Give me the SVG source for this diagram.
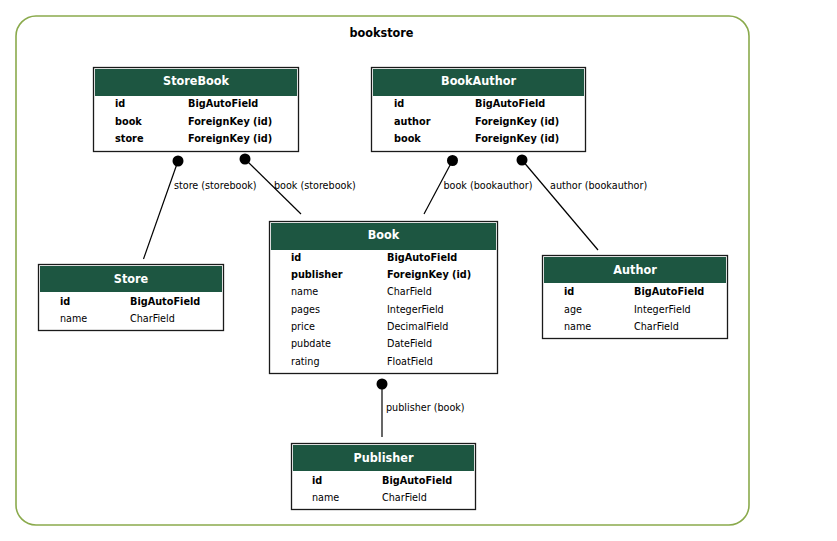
<svg xmlns="http://www.w3.org/2000/svg" width="837" height="541" viewBox="0 0 837 541">
  <style>
    text { font-family: "DejaVu Sans Condensed", "DejaVu Sans", sans-serif; font-stretch: condensed; fill: #000; }
    .cluster { fill: #fff; stroke: #8aaa4c; stroke-width: 1.6; }
    .cluster-title { font-size: 12.5px; font-weight: bold; text-anchor: middle; }
    .box { fill: #fff; stroke: #1a1a1a; stroke-width: 1.3; }
    .head { fill: #1d5641; }
    .title { font-size: 12.5px; font-weight: bold; fill: #fff; text-anchor: middle; }
    .f { font-size: 10.7px; }
    .k { font-size: 10.8px; font-weight: bold; }
    .edge { stroke: #000; stroke-width: 1.2; fill: none; }
    .dot { fill: #000; }
    .lbl { font-size: 10.7px; }
  </style>

  <!-- app cluster -->
  <g id="cluster-bookstore">
    <rect class="cluster" x="16" y="16" width="733" height="509" rx="20" ry="20"/>
    <text class="cluster-title" x="381.5" y="37">bookstore</text>
  </g>

  <!-- relations -->
  <g id="connectors">
    <line class="edge" x1="178" y1="161" x2="143.5" y2="259"/>
    <circle class="dot" cx="178" cy="161" r="5.5"/>
    <text class="lbl" x="174" y="189">store (storebook)</text>

    <line class="edge" x1="245" y1="159" x2="301" y2="214"/>
    <circle class="dot" cx="245" cy="159" r="5.5"/>
    <text class="lbl" x="274" y="189">book (storebook)</text>

    <line class="edge" x1="452.5" y1="160.5" x2="424" y2="214"/>
    <circle class="dot" cx="452.5" cy="160.5" r="5.5"/>
    <text class="lbl" x="443.5" y="189">book (bookauthor)</text>

    <line class="edge" x1="522" y1="160" x2="598" y2="250"/>
    <circle class="dot" cx="522" cy="160" r="5.5"/>
    <text class="lbl" x="550" y="189">author (bookauthor)</text>

    <line class="edge" x1="382" y1="384" x2="382" y2="437"/>
    <circle class="dot" cx="382" cy="384" r="5.5"/>
    <text class="lbl" x="386" y="411">publisher (book)</text>
  </g>

  <!-- models -->
  <g id="node-storebook">
    <rect class="box" x="93.5" y="67.5" width="205" height="84"/>
    <rect class="head" x="95" y="69" width="202" height="27"/>
    <text class="title" x="196" y="85">StoreBook</text>
    <text class="k" x="115" y="107">id</text><text class="k" x="188" y="107">BigAutoField</text>
    <text class="k" x="115" y="125">book</text><text class="k" x="188" y="125">ForeignKey (id)</text>
    <text class="k" x="115" y="142">store</text><text class="k" x="188" y="142">ForeignKey (id)</text>
  </g>

  <g id="node-bookauthor">
    <rect class="box" x="371.5" y="67.5" width="214" height="84"/>
    <rect class="head" x="373" y="69" width="211" height="27"/>
    <text class="title" x="478.5" y="85">BookAuthor</text>
    <text class="k" x="394" y="107">id</text><text class="k" x="475" y="107">BigAutoField</text>
    <text class="k" x="394" y="125">author</text><text class="k" x="475" y="125">ForeignKey (id)</text>
    <text class="k" x="394" y="142">book</text><text class="k" x="475" y="142">ForeignKey (id)</text>
  </g>

  <g id="node-book">
    <rect class="box" x="269.5" y="221.5" width="228" height="152"/>
    <rect class="head" x="271" y="223" width="225" height="27"/>
    <text class="title" x="383.5" y="239">Book</text>
    <text class="k" x="291" y="261">id</text><text class="k" x="387" y="261">BigAutoField</text>
    <text class="k" x="291" y="278">publisher</text><text class="k" x="387" y="278">ForeignKey (id)</text>
    <text class="f" x="291" y="295">name</text><text class="f" x="387" y="295">CharField</text>
    <text class="f" x="291" y="313">pages</text><text class="f" x="387" y="313">IntegerField</text>
    <text class="f" x="291" y="330">price</text><text class="f" x="387" y="330">DecimalField</text>
    <text class="f" x="291" y="347">pubdate</text><text class="f" x="387" y="347">DateField</text>
    <text class="f" x="291" y="365">rating</text><text class="f" x="387" y="365">FloatField</text>
  </g>

  <g id="node-store">
    <rect class="box" x="38.5" y="264.5" width="185" height="66"/>
    <rect class="head" x="40" y="266" width="182" height="26"/>
    <text class="title" x="131" y="283">Store</text>
    <text class="k" x="60" y="305">id</text><text class="k" x="130" y="305">BigAutoField</text>
    <text class="f" x="60" y="322">name</text><text class="f" x="130" y="322">CharField</text>
  </g>

  <g id="node-author">
    <rect class="box" x="542.5" y="255.5" width="185" height="83"/>
    <rect class="head" x="544" y="257" width="182" height="26"/>
    <text class="title" x="635" y="274">Author</text>
    <text class="k" x="564" y="295">id</text><text class="k" x="634" y="295">BigAutoField</text>
    <text class="f" x="564" y="313">age</text><text class="f" x="634" y="313">IntegerField</text>
    <text class="f" x="564" y="330">name</text><text class="f" x="634" y="330">CharField</text>
  </g>

  <g id="node-publisher">
    <rect class="box" x="291.5" y="443.5" width="184" height="66"/>
    <rect class="head" x="293" y="445" width="181" height="26"/>
    <text class="title" x="383.5" y="462">Publisher</text>
    <text class="k" x="312" y="484">id</text><text class="k" x="382" y="484">BigAutoField</text>
    <text class="f" x="312" y="501">name</text><text class="f" x="382" y="501">CharField</text>
  </g>
</svg>
